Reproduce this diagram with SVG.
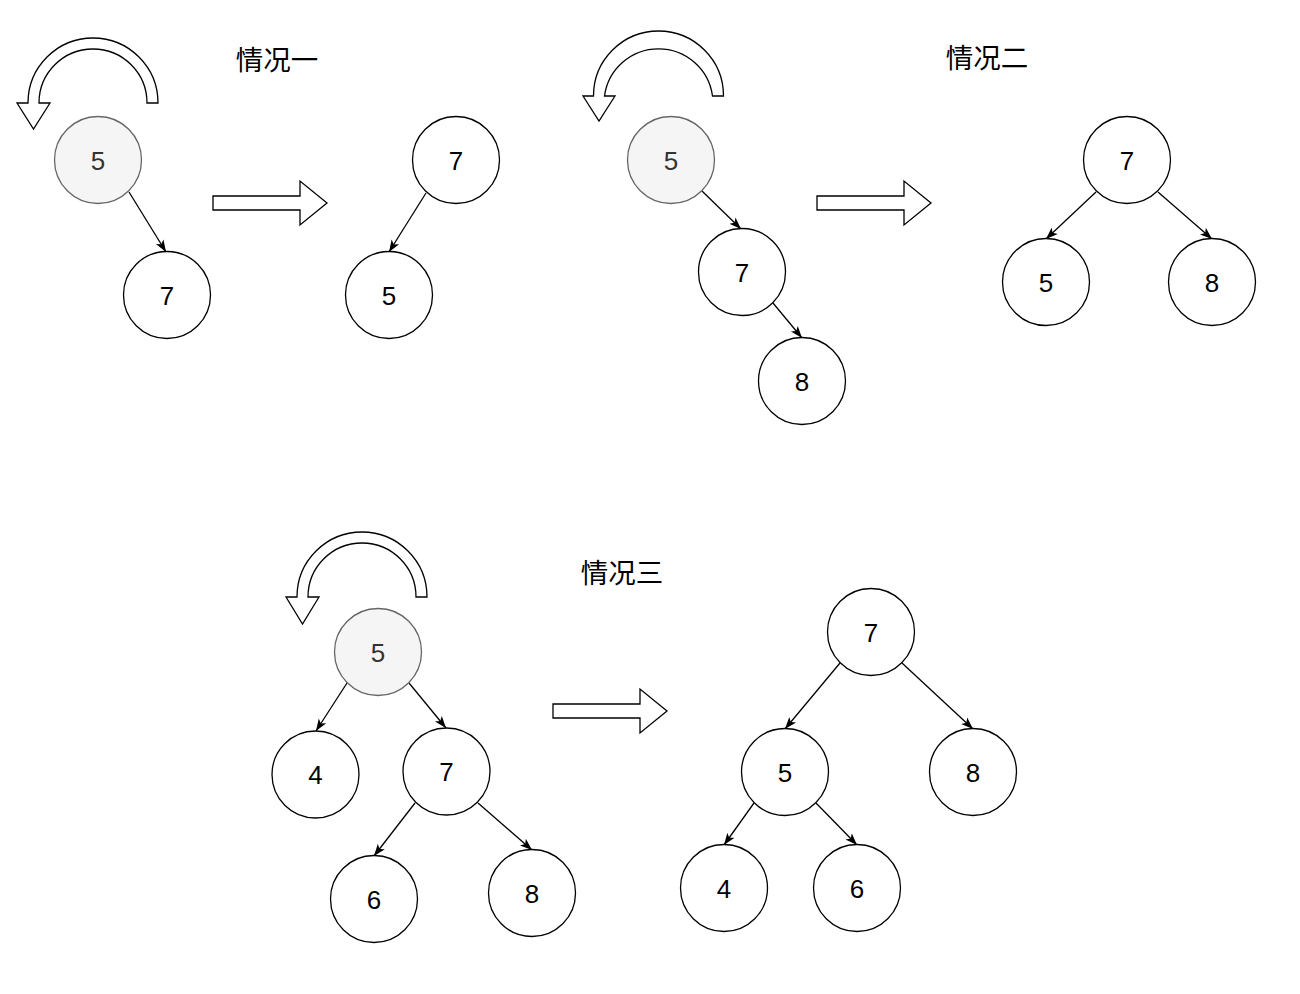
<svg xmlns="http://www.w3.org/2000/svg" width="1300" height="994" viewBox="0 0 1300 994">
<style>
.n circle{fill:#fff;stroke:#000;stroke-width:1.3}
.n text{font-family:"Liberation Sans",Arial,sans-serif;font-size:26px;fill:#000;text-anchor:middle}
.g circle{fill:#f5f5f5;stroke:#666}
.g text{fill:#333}
.e{stroke:#000;stroke-width:1.3;fill:none;marker-end:url(#ah)}
.big{fill:#fff;stroke:#000;stroke-width:1.3;stroke-linejoin:miter}
.lbl{font-family:"Liberation Sans","Noto Sans CJK SC",sans-serif;font-size:27.5px;fill:#000;text-anchor:middle}
</style>
<defs>
<marker id="ah" markerUnits="userSpaceOnUse" viewBox="0 0 10 10" markerWidth="12" markerHeight="12" refX="10" refY="5" orient="auto">
<path d="M0,1.3 L10,5 L0,8.7 L2.5,5 Z" fill="#000"/>
</marker>
</defs>
<rect width="1300" height="994" fill="#fff"/>

<g id="labels">
<text class="lbl" x="277" y="70">情况一</text>
<text class="lbl" x="987" y="68">情况二</text>
<text class="lbl" x="622" y="583">情况三</text>
</g>

<g id="rotate-arrows">
<path class="big" d="M158,103 A65,65 0 0 0 28,103 L17,103 L33.5,129 L50,103 L39,103 A54,54 0 0 1 147,103 Z"/>
<path class="big" d="M723.5,96 A65,65 0 0 0 593.5,96 L583,96 L599,121 L615,96 L604.5,96 A54.5,54.5 0 0 1 712.5,96 Z"/>
<path class="big" d="M427,597 A65,65 0 0 0 297,597 L286,597 L302.5,624 L319,597 L308,597 A54,54 0 0 1 416,597 Z"/>
</g>

<g id="transform-arrows">
<polygon class="big" points="213,196 300,196 300,181 327,203 300,225 300,210 213,210"/>
<polygon class="big" points="817,196 904,196 904,181 931,203 904,225 904,210 817,210"/>
<polygon class="big" points="553,704 640,704 640,689 667,711 640,733 640,718 553,718"/>
</g>

<g id="connectors">
<line class="e" x1="129" y1="192" x2="166" y2="252"/>
<line class="e" x1="426" y1="193" x2="389" y2="252"/>
<line class="e" x1="702" y1="191" x2="741" y2="229"/>
<line class="e" x1="773" y1="303" x2="802" y2="338"/>
<line class="e" x1="1096" y1="192" x2="1046" y2="239"/>
<line class="e" x1="1158" y1="192" x2="1212" y2="239"/>
<line class="e" x1="347" y1="683" x2="316" y2="731"/>
<line class="e" x1="409" y1="683" x2="446" y2="728"/>
<line class="e" x1="415" y1="803" x2="374" y2="856"/>
<line class="e" x1="478" y1="803" x2="532" y2="850"/>
<line class="e" x1="840" y1="663" x2="785" y2="729"/>
<line class="e" x1="902" y1="663" x2="973" y2="729"/>
<line class="e" x1="754" y1="803" x2="724" y2="845"/>
<line class="e" x1="816" y1="803" x2="857" y2="845"/>
</g>

<g id="c1-a5" class="n g"><circle cx="98" cy="160" r="43.5"/><text x="98" y="169.5">5</text></g>
<g id="c1-a7" class="n"><circle cx="167" cy="295" r="43.5"/><text x="167" y="304.5">7</text></g>
<g id="c1-b7" class="n"><circle cx="456" cy="160" r="43.5"/><text x="456" y="169.5">7</text></g>
<g id="c1-b5" class="n"><circle cx="389" cy="295" r="43.5"/><text x="389" y="304.5">5</text></g>

<g id="c2-a5" class="n g"><circle cx="671" cy="160" r="43.5"/><text x="671" y="169.5">5</text></g>
<g id="c2-a7" class="n"><circle cx="742" cy="272" r="43.5"/><text x="742" y="281.5">7</text></g>
<g id="c2-a8" class="n"><circle cx="802" cy="381" r="43.5"/><text x="802" y="390.5">8</text></g>
<g id="c2-b7" class="n"><circle cx="1127" cy="160" r="43.5"/><text x="1127" y="169.5">7</text></g>
<g id="c2-b5" class="n"><circle cx="1046" cy="282" r="43.5"/><text x="1046" y="291.5">5</text></g>
<g id="c2-b8" class="n"><circle cx="1212" cy="282" r="43.5"/><text x="1212" y="291.5">8</text></g>

<g id="c3-a5" class="n g"><circle cx="378" cy="652" r="43.5"/><text x="378" y="661.5">5</text></g>
<g id="c3-a4" class="n"><circle cx="315.5" cy="774.5" r="43.5"/><text x="315.5" y="784">4</text></g>
<g id="c3-a7" class="n"><circle cx="446.5" cy="771.5" r="43.5"/><text x="446.5" y="781">7</text></g>
<g id="c3-a6" class="n"><circle cx="374" cy="899" r="43.5"/><text x="374" y="908.5">6</text></g>
<g id="c3-a8" class="n"><circle cx="532" cy="893" r="43.5"/><text x="532" y="902.5">8</text></g>
<g id="c3-b7" class="n"><circle cx="871" cy="632" r="43.5"/><text x="871" y="641.5">7</text></g>
<g id="c3-b5" class="n"><circle cx="785" cy="772" r="43.5"/><text x="785" y="781.5">5</text></g>
<g id="c3-b8" class="n"><circle cx="973" cy="772" r="43.5"/><text x="973" y="781.5">8</text></g>
<g id="c3-b4" class="n"><circle cx="724" cy="888" r="43.5"/><text x="724" y="897.5">4</text></g>
<g id="c3-b6" class="n"><circle cx="857" cy="888" r="43.5"/><text x="857" y="897.5">6</text></g>
</svg>
